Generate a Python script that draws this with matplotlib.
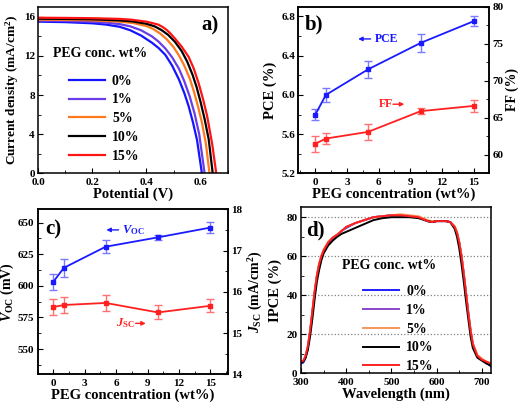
import matplotlib
matplotlib.use("Agg")
import matplotlib.pyplot as plt
from matplotlib.ticker import MultipleLocator

plt.rcParams['font.family'] = ['Liberation Serif', 'DejaVu Serif']
plt.rcParams['font.weight'] = 'bold'
plt.rcParams['axes.labelweight'] = 'bold'
plt.rcParams['mathtext.fontset'] = 'custom'
plt.rcParams['mathtext.rm'] = 'Liberation Serif:bold'
plt.rcParams['mathtext.it'] = 'Liberation Serif:italic:bold'
plt.rcParams['mathtext.bf'] = 'Liberation Serif:bold'
plt.rcParams['axes.linewidth'] = 1.1

# ---- data ----
peg_labels = ['0%', '1%', '5%', '10%', '15%']
peg_conc = [0, 1, 5, 10, 15]

# J-V curves (V, mA/cm2)
jv_v_0 = [0.00, 0.10, 0.20, 0.25, 0.30, 0.34, 0.38, 0.42, 0.445, 0.47, 0.495, 0.52,
          0.54, 0.556, 0.572, 0.587, 0.605]
jv_j_0 = [15.50, 15.45, 15.33, 15.20, 14.98, 14.62, 14.08, 13.35, 12.80, 12.10, 11.00, 9.60,
          8.20, 6.85, 5.20, 3.40, 0.0]
jv_v_1 = [0.00, 0.10, 0.20, 0.25, 0.30, 0.34, 0.38, 0.42, 0.445, 0.47, 0.495, 0.52,
          0.54, 0.56, 0.578, 0.595, 0.615]
jv_j_1 = [15.60, 15.57, 15.49, 15.40, 15.25, 15.02, 14.62, 14.00, 13.45, 12.75, 11.85, 10.70,
          9.40, 7.85, 6.10, 4.00, 0.0]
jv_v_5 = [0.00, 0.10, 0.20, 0.30, 0.35, 0.40, 0.425, 0.45, 0.475, 0.50, 0.52, 0.54,
          0.56, 0.575, 0.59, 0.605, 0.62, 0.633]
jv_j_5 = [15.70, 15.68, 15.63, 15.50, 15.36, 15.05, 14.75, 14.30, 13.70, 12.90, 12.05, 11.00,
          9.70, 8.40, 6.90, 5.20, 3.00, 0.0]
jv_v_10 = [0.00, 0.10, 0.20, 0.30, 0.35, 0.40, 0.43, 0.455, 0.48, 0.505, 0.53, 0.55,
           0.57, 0.585, 0.60, 0.615, 0.63, 0.645]
jv_j_10 = [15.80, 15.78, 15.74, 15.63, 15.52, 15.28, 15.02, 14.65, 14.15, 13.45, 12.50, 11.45,
           10.10, 8.85, 7.30, 5.55, 3.50, 0.0]
jv_v_15 = [0.00, 0.10, 0.20, 0.30, 0.343, 0.40, 0.443, 0.46, 0.475, 0.49, 0.506, 0.53,
           0.556, 0.575, 0.593, 0.61, 0.624, 0.643, 0.658]
jv_j_15 = [15.90, 15.88, 15.85, 15.78, 15.70, 15.50, 15.20, 14.95, 14.65, 14.25, 13.75, 12.95,
           11.90, 10.70, 9.20, 7.50, 5.90, 3.00, 0.0]

pce = [5.80, 6.00, 6.26, 6.53, 6.75]
pce_err = [0.058, 0.07, 0.09, 0.088, 0.05]
ff = [61.5, 62.2, 63.1, 65.9, 66.6]
ff_err = [1.08, 0.72, 1.1, 0.4, 0.77]

voc = [603.2, 614.2, 630.9, 638.3, 646.0]
voc_err = [6.2, 7.1, 5.0, 1.8, 4.5]
jsc = [15.63, 15.68, 15.73, 15.50, 15.66]
jsc_err = [0.19, 0.19, 0.19, 0.17, 0.16]

wl = [300, 305, 310, 315, 320, 325, 330, 335, 340, 345, 350, 360, 370, 380, 390, 400,
      420, 440, 460, 480, 500, 520, 540, 560, 580, 590, 600, 620, 630, 640, 645, 650,
      655, 660, 665, 670, 675, 680, 690, 700, 710, 720]
ipce_0 = [5, 5.5, 8, 13, 21, 31, 41, 49.5, 55.5, 59.5, 62.5, 66.5, 69, 71, 73, 74.5,
          77, 78.5, 80, 80.5, 81, 81, 80.5, 80, 78, 77.5, 78, 78, 77.5, 75, 72, 67,
          60, 51, 41, 31, 22, 15, 9, 7, 5.5, 3.5]
ipce_1 = [5.5, 6, 8.5, 13.5, 21.5, 31.5, 41.5, 50, 56, 60, 63, 67, 69.5, 71, 73, 75,
          77, 78.5, 80, 80.5, 81, 81, 80.5, 80, 78, 77.5, 78, 78, 77.5, 75, 72, 67,
          60, 51, 41, 31, 22, 15, 9, 7, 5.5, 4]
ipce_5 = [6, 6.5, 9, 14, 22, 32, 42, 50.5, 56.5, 60.5, 63.5, 67.5, 69.5, 71, 73, 75,
          77, 78.5, 80, 80.5, 81, 81.5, 81, 80.5, 78.5, 78, 78, 78, 77.5, 75.5, 72.5, 67.5,
          60.5, 51.5, 41.5, 31.5, 22.5, 15.5, 9.5, 7.5, 6, 5]
ipce_10 = [5.5, 6, 8, 12, 19, 28, 38, 47, 53, 58, 61.5, 65.5, 68, 70, 71.5, 72.5,
           74.5, 76.5, 78.5, 79.5, 80, 80, 80, 79.5, 78, 77.5, 78, 78, 77.5, 74, 70, 64,
           56, 47, 37, 28, 19, 13, 8, 6.5, 5, 4]
ipce_15 = [6, 6.5, 9, 14, 22, 32, 42, 50, 56, 60, 63, 67, 69.5, 71, 73, 75,
           77, 78.5, 80, 80.5, 81, 81, 80.5, 80, 78, 77.5, 78, 78, 77.5, 75, 72, 67,
           60, 51, 41, 31, 22, 15, 9, 7, 6, 5]

colors_a = ['#1414ff', '#6a3de8', '#ff7a1e', '#000000', '#ff1414']
colors_d = ['#1e1eff', '#8a45c8', '#f5965a', '#000000', '#ff2020']

fig = plt.figure(figsize=(5.2, 4.09), dpi=100)
ax_a = fig.add_axes([0.0737, 0.576, 0.364, 0.407])
ax_b = fig.add_axes([0.574, 0.576, 0.367, 0.408])
ax_c = fig.add_axes([0.0725, 0.0848, 0.366, 0.4035])
ax_d = fig.add_axes([0.579, 0.0873, 0.365, 0.4055])


def style(ax):
    ax.tick_params(which='both', direction='in', labelsize=8, top=False)
    ax.tick_params(axis='y', pad=2.5)
    ax.tick_params(axis='x', pad=3.5)
    ax.tick_params(which='major', length=3.5)
    ax.tick_params(which='minor', length=2)
    for lab in ax.get_xticklabels() + ax.get_yticklabels():
        lab.set_fontweight('bold')


# ---- a) J-V ----
jv_sets = [(jv_v_0, jv_j_0), (jv_v_1, jv_j_1), (jv_v_5, jv_j_5),
           (jv_v_10, jv_j_10), (jv_v_15, jv_j_15)]
for (v, j), c, lab in zip(jv_sets, colors_a, peg_labels):
    ax_a.plot(v, j, color=c, lw=1.6, label=lab)
ax_a.set_xlim(0, 0.7)
ax_a.set_ylim(0, 17)
ax_a.set_xticks([0.0, 0.2, 0.4, 0.6])
ax_a.set_yticks([0, 4, 8, 12, 16])
ax_a.xaxis.set_minor_locator(MultipleLocator(0.1))
ax_a.yaxis.set_minor_locator(MultipleLocator(2))
ax_a.set_xlabel('Potential (V)', fontsize=10.5, labelpad=0.5)
ax_a.set_ylabel('Current density (mA/cm$^2$)', fontsize=9.5, labelpad=2)
ax_a.text(0.864, 0.89, 'a)', transform=ax_a.transAxes, fontsize=15, va='center')
ax_a.text(0.078, 0.72, 'PEG conc. wt%', transform=ax_a.transAxes, fontsize=10, va='center')
ax_a.legend(loc='upper left', bbox_to_anchor=(0.125, 0.635), frameon=False,
            handlelength=2.6, labelspacing=0.42, borderpad=0, handletextpad=0.5,
            prop={'weight': 'bold', 'size': 10})
style(ax_a)

# ---- b) PCE / FF ----
ax_b.errorbar(peg_conc, pce, yerr=pce_err, color='#1a1aff', ecolor='#7a7aff', lw=1.3,
              marker='s', ms=3, capsize=3, elinewidth=1, capthick=1)
ax_b.set_xlim(-1.6, 16.5)
ax_b.set_ylim(5.2, 6.9)
ax_b.set_xticks([0, 3, 6, 9, 12, 15])
ax_b.set_yticks([5.2, 5.6, 6.0, 6.4, 6.8])
ax_b.xaxis.set_minor_locator(MultipleLocator(1.5))
ax_b.yaxis.set_minor_locator(MultipleLocator(0.2))
ax_b.set_xlabel('PEG concentration (wt%)', fontsize=10.5, labelpad=0.5)
ax_b.set_ylabel('PCE (%)', fontsize=10.5, labelpad=3)
ax_b.text(0.035, 0.89, 'b)', transform=ax_b.transAxes, fontsize=15, va='center')
ax_b.annotate('', xy=(3.8, 6.57), xytext=(5.5, 6.57),
              arrowprops=dict(arrowstyle='-|>', color='#1a1aff', lw=1, mutation_scale=6))
ax_b.text(5.6, 6.57, 'PCE', color='#1a1aff', fontsize=8.5, va='center')
ax_b.text(6.0, 5.905, 'FF', color='#ff2020', fontsize=8.5, va='center')
ax_b.annotate('', xy=(8.7, 5.905), xytext=(7.1, 5.905),
              arrowprops=dict(arrowstyle='-|>', color='#ff2020', lw=1, mutation_scale=6))
style(ax_b)
ax_b2 = ax_b.twinx()
ax_b2.errorbar(peg_conc, ff, yerr=ff_err, color='#ff2020', ecolor='#ff7070', lw=1.3,
               marker='s', ms=3, capsize=3, elinewidth=1, capthick=1)
ax_b2.set_ylim(57.5, 80)
ax_b2.set_yticks([60, 65, 70, 75, 80])
ax_b2.yaxis.set_minor_locator(MultipleLocator(2.5))
ax_b2.set_ylabel('FF (%)', fontsize=10, labelpad=1.5)
style(ax_b2)

# ---- c) Voc / Jsc ----
ax_c.errorbar(peg_conc, voc, yerr=voc_err, color='#1a1aff', ecolor='#7a7aff', lw=1.3,
              marker='s', ms=3, capsize=3, elinewidth=1, capthick=1)
ax_c.set_xlim(-1.5, 16.7)
ax_c.set_ylim(530, 660.5)
ax_c.set_xticks([0, 3, 6, 9, 12, 15])
ax_c.set_yticks([550, 575, 600, 625, 650])
ax_c.xaxis.set_minor_locator(MultipleLocator(1.5))
ax_c.yaxis.set_minor_locator(MultipleLocator(12.5))
ax_c.set_xlabel('PEG concentration (wt%)', fontsize=10.5, labelpad=0.5)
ax_c.set_ylabel(r'$V_{\rm OC}$ (mV)', fontsize=10, labelpad=1)
ax_c.text(0.038, 0.875, 'c)', transform=ax_c.transAxes, fontsize=15, va='center')
ax_c.annotate('', xy=(4.8, 644.2), xytext=(6.5, 644.2),
              arrowprops=dict(arrowstyle='-|>', color='#1a1aff', lw=1, mutation_scale=6))
ax_c.text(6.55, 644.2, r'$V_{\rm OC}$', color='#1a1aff', fontsize=9, va='center')
ax_c.text(6.0, 570.3, r'$J_{\rm SC}$', color='#ff2020', fontsize=9, va='center')
ax_c.annotate('', xy=(9.1, 570.3), xytext=(7.6, 570.3),
              arrowprops=dict(arrowstyle='-|>', color='#ff2020', lw=1, mutation_scale=6))
style(ax_c)
ax_c2 = ax_c.twinx()
ax_c2.errorbar(peg_conc, jsc, yerr=jsc_err, color='#ff2020', ecolor='#ff7070', lw=1.3,
               marker='s', ms=3, capsize=3, elinewidth=1, capthick=1)
ax_c2.set_ylim(14, 18)
ax_c2.set_yticks([14, 15, 16, 17, 18])
ax_c2.yaxis.set_minor_locator(MultipleLocator(0.5))
ax_c2.set_ylabel(r'$J_{\rm SC}$ (mA/cm$^2$)', fontsize=10, labelpad=3)
style(ax_c2)

# ---- d) IPCE ----
ipce_sets = [ipce_0, ipce_1, ipce_5, ipce_10, ipce_15]
for vals, c, lab in zip(ipce_sets, colors_d, peg_labels):
    ax_d.plot(wl, vals, color=c, lw=1.4, label=lab)
ax_d.set_xlim(300, 720)
ax_d.set_ylim(0, 85)
ax_d.set_xticks([300, 400, 500, 600, 700])
ax_d.set_yticks([0, 20, 40, 60, 80])
ax_d.xaxis.set_minor_locator(MultipleLocator(50))
ax_d.yaxis.set_minor_locator(MultipleLocator(10))
for gy in [20, 40, 60, 80]:
    ax_d.axhline(gy, color='gray', lw=0.9, ls=':', zorder=0)
ax_d.set_xlabel('Wavelength (nm)', fontsize=10.5, labelpad=0.5)
ax_d.set_ylabel('IPCE (%)', fontsize=10.5, labelpad=3)
ax_d.text(0.026, 0.864, 'd)', transform=ax_d.transAxes, fontsize=15, va='center')
ax_d.text(0.214, 0.649, 'PEG conc. wt%', transform=ax_d.transAxes, fontsize=10, va='center')
ax_d.legend(loc='upper left', bbox_to_anchor=(0.29, 0.575), frameon=False,
            handlelength=2.6, labelspacing=0.42, borderpad=0, handletextpad=0.5,
            prop={'weight': 'bold', 'size': 10})
style(ax_d)

fig.savefig('out.png', dpi=100)
